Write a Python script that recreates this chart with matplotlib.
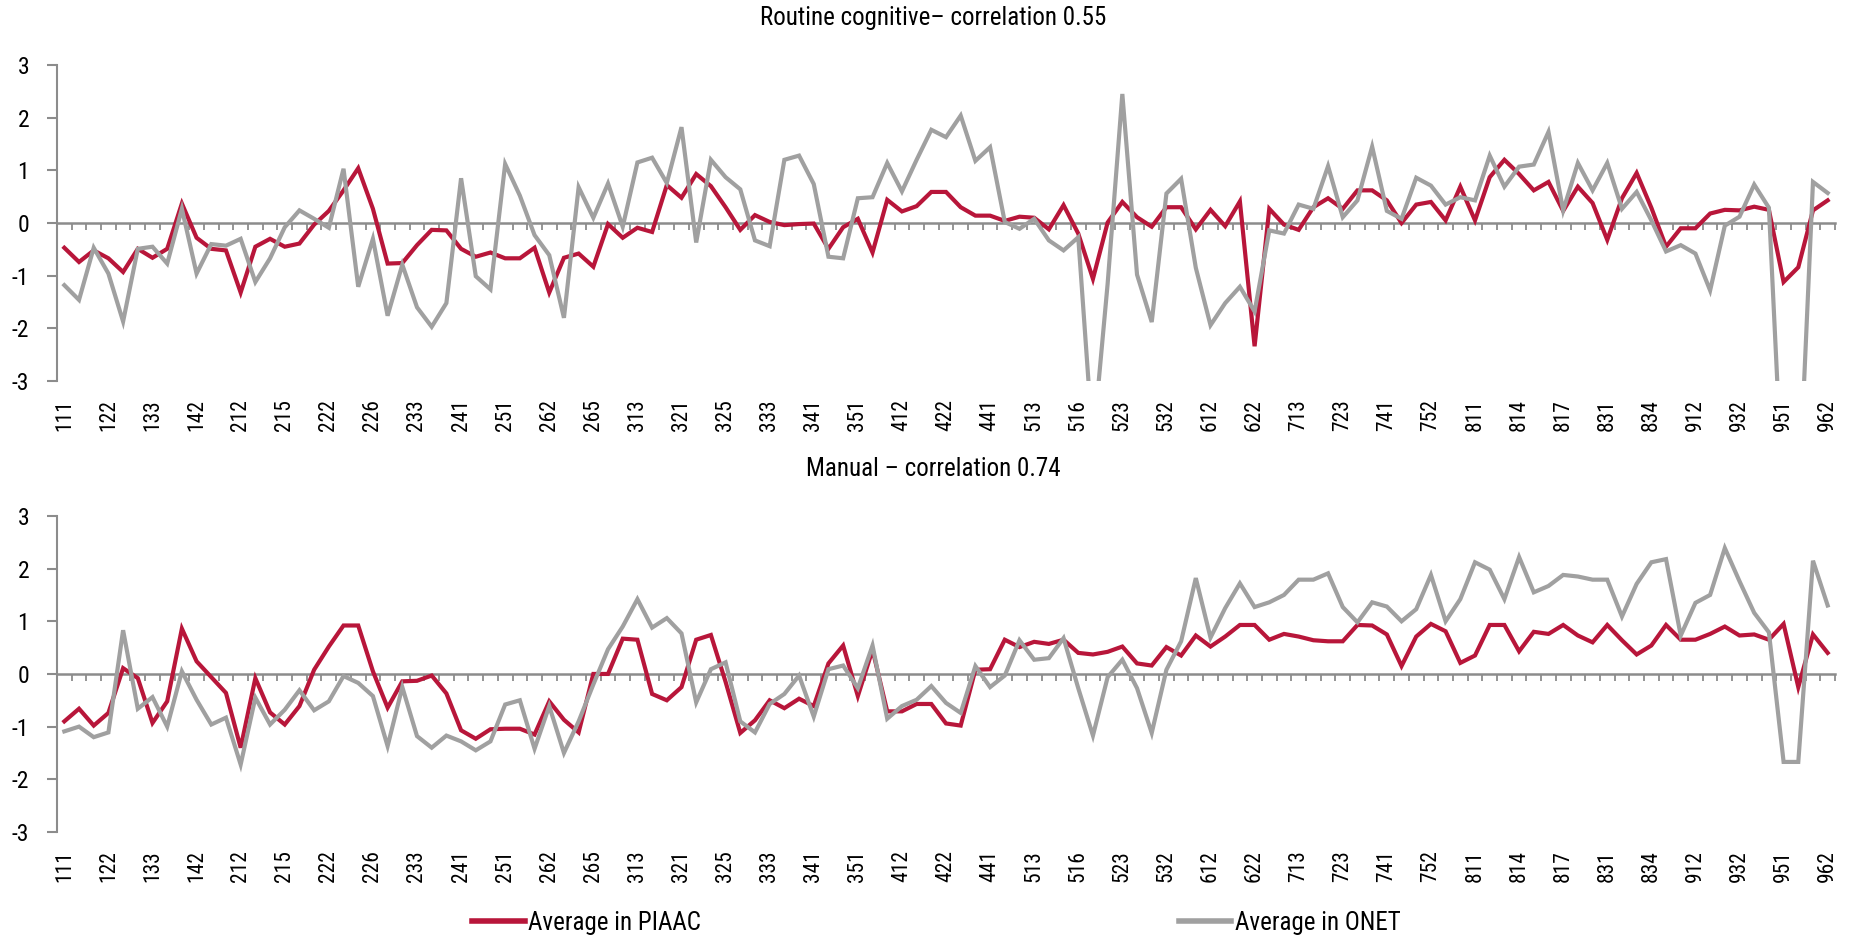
import matplotlib
matplotlib.use("Agg")
import matplotlib.pyplot as plt
from matplotlib import font_manager
from matplotlib.lines import Line2D
from matplotlib.ticker import NullFormatter
import numpy as np

# ISCO 3-digit occupation codes (every 3rd one is labelled on the axis)
codes = [111, 112, 121, 122, 131, 132, 133, 134, 141, 142, 143, 211, 212, 213, 214, 215, 216,
         221, 222, 223, 225, 226, 231, 232, 233, 234, 235, 241, 242, 243, 251, 252, 261, 262,
         263, 264, 265, 311, 312, 313, 314, 315, 321, 322, 324, 325, 331, 332, 333, 334, 335,
         341, 342, 343, 351, 352, 411, 412, 413, 421, 422, 431, 432, 441, 511, 512, 513, 514,
         515, 516, 521, 522, 523, 524, 531, 532, 541, 611, 612, 613, 621, 622, 711, 712, 713,
         721, 722, 723, 731, 732, 741, 742, 751, 752, 753, 754, 811, 812, 813, 814, 815, 816,
         817, 818, 821, 831, 832, 833, 834, 835, 911, 912, 921, 931, 932, 933, 941, 951, 952,
         961, 962]

routine_piaac = [-0.47, -0.74, -0.52, -0.67, -0.93, -0.49, -0.66, -0.49, 0.37, -0.28,
                 -0.49, -0.52, -1.32, -0.45, -0.30, -0.45, -0.39, -0.03, 0.23, 0.62,
                 1.04, 0.27, -0.77, -0.76, -0.42, -0.13, -0.14, -0.49, -0.64, -0.56,
                 -0.67, -0.67, -0.47, -1.32, -0.66, -0.58, -0.83, -0.02, -0.28, -0.09,
                 -0.17, 0.72, 0.48, 0.93, 0.70, 0.30, -0.13, 0.15, 0.02, -0.04,
                 -0.02, -0.01, -0.49, -0.08, 0.08, -0.56, 0.44, 0.22, 0.32, 0.59,
                 0.59, 0.30, 0.14, 0.14, 0.04, 0.12, 0.10, -0.12, 0.34, -0.20,
                 -1.06, 0.01, 0.40, 0.11, -0.07, 0.30, 0.30, -0.12, 0.25, -0.06,
                 0.41, -2.34, 0.27, -0.03, -0.13, 0.30, 0.47, 0.27, 0.62, 0.62,
                 0.43, 0.00, 0.35, 0.40, 0.05, 0.69, 0.05, 0.87, 1.20, 0.93,
                 0.62, 0.78, 0.23, 0.69, 0.38, -0.32, 0.47, 0.95, 0.29, -0.45,
                 -0.10, -0.10, 0.18, 0.25, 0.24, 0.31, 0.25, -1.12, -0.84, 0.24,
                 0.43]

routine_onet = [-1.18, -1.46, -0.47, -0.96, -1.87, -0.49, -0.45, -0.77, 0.27, -0.96,
                -0.40, -0.43, -0.30, -1.12, -0.67, -0.08, 0.24, 0.08, -0.09, 1.03,
                -1.21, -0.30, -1.76, -0.79, -1.60, -1.97, -1.52, 0.85, -1.01, -1.26,
                1.12, 0.52, -0.23, -0.61, -1.80, 0.68, 0.10, 0.75, -0.07, 1.15,
                1.24, 0.76, 1.82, -0.37, 1.20, 0.87, 0.64, -0.33, -0.44, 1.20,
                1.28, 0.74, -0.64, -0.67, 0.47, 0.49, 1.14, 0.60, 1.20, 1.77,
                1.63, 2.04, 1.18, 1.44, 0.02, -0.11, 0.08, -0.33, -0.52, -0.27,
                -4.20, -1.15, 2.45, -0.98, -1.88, 0.56, 0.84, -0.85, -1.94, -1.52,
                -1.21, -1.68, -0.14, -0.20, 0.35, 0.27, 1.08, 0.11, 0.43, 1.45,
                0.23, 0.08, 0.86, 0.71, 0.35, 0.49, 0.43, 1.28, 0.69, 1.07,
                1.11, 1.73, 0.24, 1.14, 0.62, 1.14, 0.27, 0.59, 0.05, -0.54,
                -0.42, -0.58, -1.28, -0.05, 0.12, 0.73, 0.29, -5.50, -5.50, 0.78,
                0.57]

manual_piaac = [-0.90, -0.66, -0.98, -0.74, 0.11, -0.08, -0.93, -0.52, 0.86, 0.24,
                -0.06, -0.36, -1.40, -0.08, -0.73, -0.96, -0.61, 0.08, 0.52, 0.92,
                0.92, 0.05, -0.64, -0.14, -0.13, -0.03, -0.37, -1.07, -1.23, -1.05,
                -1.04, -1.04, -1.15, -0.52, -0.87, -1.11, 0.00, 0.00, 0.67, 0.65,
                -0.38, -0.50, -0.25, 0.65, 0.74, -0.15, -1.12, -0.88, -0.50, -0.65,
                -0.47, -0.61, 0.20, 0.54, -0.42, 0.46, -0.71, -0.71, -0.57, -0.57,
                -0.94, -0.98, 0.08, 0.09, 0.65, 0.51, 0.61, 0.57, 0.65, 0.40,
                0.37, 0.42, 0.52, 0.20, 0.16, 0.51, 0.35, 0.73, 0.52, 0.71,
                0.93, 0.93, 0.65, 0.76, 0.71, 0.64, 0.62, 0.62, 0.93, 0.92,
                0.75, 0.15, 0.71, 0.95, 0.81, 0.21, 0.35, 0.93, 0.93, 0.43,
                0.80, 0.76, 0.93, 0.73, 0.60, 0.93, 0.64, 0.37, 0.54, 0.93,
                0.65, 0.65, 0.76, 0.90, 0.73, 0.75, 0.65, 0.95, -0.25, 0.75,
                0.40]

manual_onet = [-1.09, -1.00, -1.20, -1.11, 0.83, -0.66, -0.44, -1.00, 0.05, -0.49,
               -0.96, -0.83, -1.72, -0.45, -0.96, -0.68, -0.31, -0.69, -0.52, -0.04,
               -0.17, -0.42, -1.37, -0.25, -1.18, -1.40, -1.17, -1.28, -1.45, -1.28,
               -0.58, -0.50, -1.42, -0.61, -1.50, -0.90, -0.20, 0.47, 0.90, 1.42,
               0.88, 1.06, 0.77, -0.54, 0.09, 0.22, -0.90, -1.11, -0.57, -0.38,
               -0.03, -0.81, 0.09, 0.16, -0.27, 0.54, -0.85, -0.61, -0.49, -0.23,
               -0.55, -0.74, 0.15, -0.25, -0.03, 0.64, 0.27, 0.30, 0.68, -0.27,
               -1.17, -0.06, 0.27, -0.27, -1.12, 0.08, 0.62, 1.82, 0.69, 1.25,
               1.72, 1.27, 1.36, 1.50, 1.79, 1.79, 1.91, 1.27, 0.98, 1.36,
               1.28, 1.00, 1.23, 1.88, 1.00, 1.42, 2.12, 1.98, 1.42, 2.22,
               1.55, 1.67, 1.88, 1.85, 1.79, 1.79, 1.09, 1.71, 2.12, 2.18,
               0.73, 1.35, 1.50, 2.39, 1.76, 1.16, 0.79, -1.67, -1.67, 2.15,
               1.30]

titles = ["Routine cognitive\u2013 correlation 0.55", "Manual \u2013 correlation 0.74"]
legend_labels = ["Average in PIAAC", "Average in ONET"]

red = "#B8163A"
grey = "#A0A0A0"
axis_grey = "#8C8C8C"

# pick a narrow font if one is there
names = {f.name for f in font_manager.fontManager.ttflist}
font = "DejaVu Sans"
for cand in ["Roboto Condensed", "Liberation Sans Narrow", "Roboto"]:
    if cand in names:
        font = cand
        break
plt.rcParams["font.family"] = [font, "DejaVu Sans"]
plt.rcParams["axes.unicode_minus"] = False

fig = plt.figure(figsize=(18.56, 9.42), dpi=100)
ax1 = fig.add_axes([0.0307, 0.5955, 0.958, 0.3355])
ax2 = fig.add_axes([0.0307, 0.1168, 0.958, 0.3355])

x = np.arange(len(codes))

for ax, piaac, onet in [(ax1, routine_piaac, routine_onet), (ax2, manual_piaac, manual_onet)]:
    ax.plot(x, piaac, color=red, lw=3.0, solid_joinstyle="miter")
    ax.plot(x, onet, color=grey, lw=3.0, solid_joinstyle="miter")
    ax.set_xlim(-0.5, len(codes) - 0.5)
    ax.set_ylim(-3, 3)
    ax.set_yticks([-3, -2, -1, 0, 1, 2, 3])
    ax.set_yticklabels(["-3", "-2", "-1", "0", "1", "2", "3"])
    for s in ["top", "right", "bottom"]:
        ax.spines[s].set_visible(False)
    ax.spines["left"].set_color(axis_grey)
    ax.spines["left"].set_linewidth(1.5)
    ax.tick_params(axis="y", direction="out", length=7, width=1.5, color=axis_grey,
                   labelsize=17, pad=13)
    ax.set_xticks(x[::3])
    ax.set_xticklabels([str(c) for c in codes[::3]], rotation=90)
    ax.tick_params(axis="x", length=0, labelsize=15.5, pad=13)

    # zero line with category tick marks hanging below it
    zero = ax.secondary_xaxis(0.5)
    zero.set_xticks(np.arange(-0.5, len(codes), 1))
    zero.xaxis.set_major_formatter(NullFormatter())
    zero.tick_params(axis="x", direction="in", length=5, width=1.3, color=axis_grey)
    for s in zero.spines.values():
        s.set_color(axis_grey)
        s.set_linewidth(1.8)

fig.text(0.503, 0.981, titles[0], ha="center", va="center", fontsize=18)
fig.text(0.503, 0.502, titles[1], ha="center", va="center", fontsize=18)

handles = [Line2D([], [], color=red, lw=4), Line2D([], [], color=grey, lw=4)]
fig.legend(handles, legend_labels, loc="center left", bbox_to_anchor=(0.249, 0.02),
           ncol=2, frameon=False, fontsize=18, handlelength=2.1, handletextpad=0.15,
           columnspacing=19.1, borderaxespad=0)

fig.savefig("out.png", dpi=100)
